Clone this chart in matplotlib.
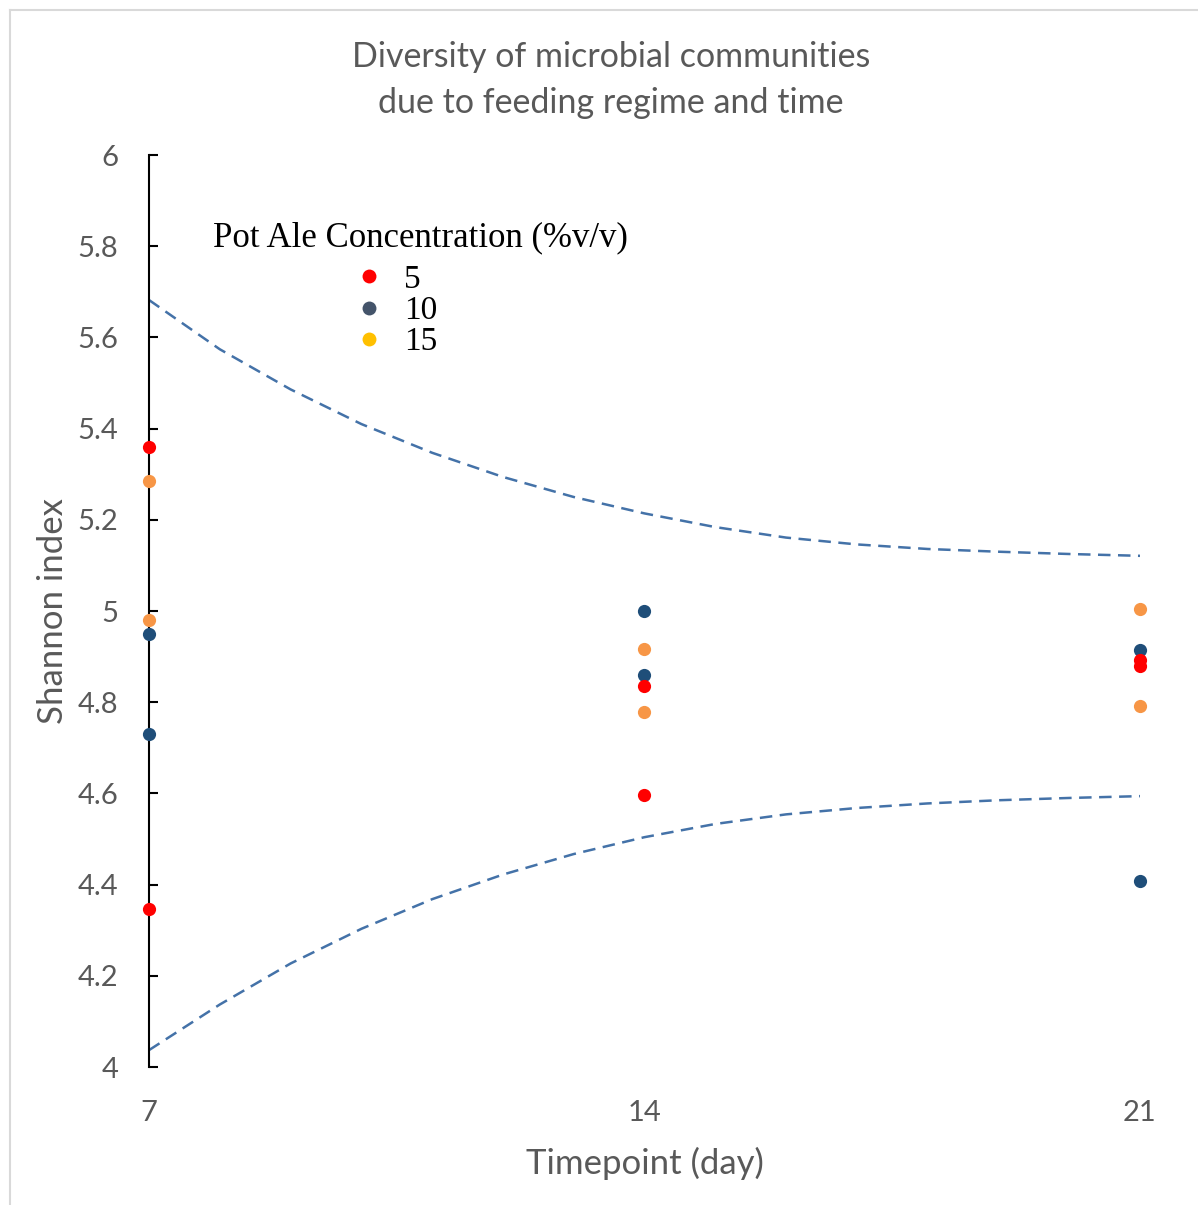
import matplotlib.pyplot as plt
from matplotlib.lines import Line2D

# day of sampling
days = [7, 14, 21]

# Shannon index, two replicates per timepoint, per pot ale concentration
conc5_a = [5.36, 4.836, 4.893]
conc5_b = [4.346, 4.596, 4.879]
conc10_a = [4.95, 5.0, 4.914]
conc10_b = [4.73, 4.86, 4.408]
conc15_a = [5.285, 4.917, 5.004]
conc15_b = [4.98, 4.779, 4.792]

# dashed envelope
env_days = [7, 8, 9, 10, 11, 12, 13, 14, 15, 16, 17, 18, 19, 20, 21]
env_upper = [5.682, 5.574, 5.486, 5.410, 5.347, 5.294, 5.250, 5.214, 5.184,
             5.161, 5.146, 5.136, 5.130, 5.125, 5.121]
env_lower = [4.037, 4.137, 4.227, 4.303, 4.368, 4.422, 4.467, 4.504, 4.533,
             4.554, 4.568, 4.578, 4.585, 4.590, 4.594]

legend_labels = ["5", "10", "15"]

c_red = "#FF0000"
c_blue = "#1F4E79"
c_orange = "#F79646"
c_gray = "#595959"

fig = plt.figure(figsize=(11.98, 12.05), dpi=100)
ax = fig.add_axes([149/1198, 1 - 1067/1205, (1140-149)/1198, (1067-155)/1205])

ms = 9.5
for ys, col in [(conc10_a, c_blue), (conc10_b, c_blue),
                (conc15_a, c_orange), (conc15_b, c_orange),
                (conc5_a, c_red), (conc5_b, c_red)]:
    ax.plot(days, ys, 'o', color=col, ms=ms, mec='none', ls='none', clip_on=False, zorder=3)

ax.plot(env_days, env_upper, color="#4472A8", lw=1.8, dashes=(5, 3), zorder=2)
ax.plot(env_days, env_lower, color="#4472A8", lw=1.8, dashes=(5, 3), zorder=2)

ax.set_xlim(7, 21)
ax.set_ylim(4, 6)
ax.set_xticks(days)
ax.set_yticks([4, 4.2, 4.4, 4.6, 4.8, 5, 5.2, 5.4, 5.6, 5.8, 6])
ax.set_yticklabels(["4", "4.2", "4.4", "4.6", "4.8", "5", "5.2", "5.4", "5.6", "5.8", "6"])

for s in ["top", "right", "bottom"]:
    ax.spines[s].set_visible(False)
ax.spines["left"].set_linewidth(1.5)
ax.spines["left"].set_color("black")

ax.tick_params(axis="y", direction="in", length=6.5, width=1.5, color="black",
               labelsize=21, labelcolor=c_gray, pad=22)
ax.tick_params(axis="x", length=0, labelsize=21, labelcolor=c_gray, pad=24)
for lab in ax.get_xticklabels() + ax.get_yticklabels():
    lab.set_family("Lato")

ax.set_xlabel("Timepoint (day)", fontsize=25, color=c_gray, family="Lato", labelpad=15)
ax.set_ylabel("Shannon index", fontsize=25, color=c_gray, family="Lato", labelpad=6)

fig.text(611/1198, 1 - 80/1205, "Diversity of microbial communities\ndue to feeding regime and time",
         ha="center", va="center", fontsize=24.5, color=c_gray, family="Lato", linespacing=1.55)

# legend
ax.text((420-149)/991, (1067-238)/912, "Pot Ale Concentration (%v/v)", transform=ax.transAxes,
        ha="center", va="center", fontsize=25, family="Liberation Serif", color="black")
handles = [Line2D([], [], marker='o', ls='none', color=c, ms=10, mec='none')
           for c in [c_red, "#44546A", "#FFC000"]]
leg = ax.legend(handles, legend_labels, loc="upper left",
                bbox_to_anchor=((336-149)/991, (1067-248)/912), frameon=False,
                prop={"family": "Liberation Serif", "size": 24},
                handlelength=1.0, handletextpad=0.55, labelspacing=0.02, borderpad=0)

# screenshot frame
fig.add_artist(Line2D([10/1198, 10/1198], [0, 1 - 10/1205], color="#D9D9D9", lw=1.5))
fig.add_artist(Line2D([10/1198, 1], [1 - 10/1205, 1 - 10/1205], color="#D9D9D9", lw=1.5))

fig.savefig("out.png", dpi=100)
